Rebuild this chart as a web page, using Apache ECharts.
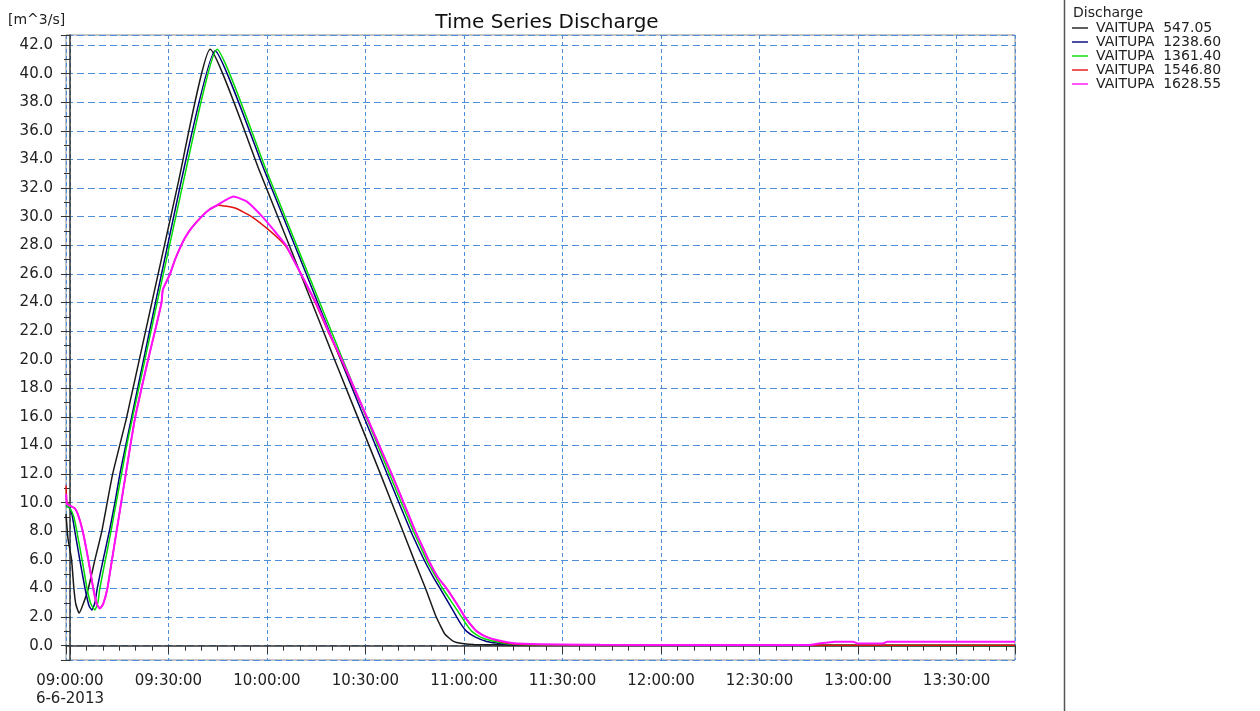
<!DOCTYPE html>
<html>
<head>
<meta charset="utf-8">
<title>Time Series Discharge</title>
<script src="https://cdn.jsdelivr.net/npm/echarts@6/dist/echarts.min.js"></script>
<style>
  html, body { margin: 0; padding: 0; background: #fff; }
  #chart { width: 1260px; height: 711px; }
</style>
</head>
<body>
<div id="chart"></div>
<script>
// x = minutes after 09:00 (6-6-2013), y = discharge [m^3/s]
const seriesNames = ['VAITUPA  547.05', 'VAITUPA  1238.60', 'VAITUPA  1361.40', 'VAITUPA  1546.80', 'VAITUPA  1628.55'];
const seriesColors = ['#1a1a1a', '#00007a', '#00dc00', '#e41010', '#ff10ff'];

const q547 = [
  [-1.2, 9.2], [-0.6, 7.5], [0.5, 6.0], [1.2, 4.0], [1.8, 2.9], [2.8, 2.28], [4.0, 2.9], [5.6, 4.0],
  [7.6, 6.0], [9.7, 8.0], [13.0, 12.0], [17.3, 16.0], [33.0, 32.4], [42.7, 41.7], [57.9, 33.1],
  [69.2, 26.6], [80.6, 20.0], [94.4, 12.1], [101.4, 8.0], [104.8, 6.0], [108.3, 4.0], [111.2, 2.2],
  [112.6, 1.5], [114.2, 0.8], [116.8, 0.3], [119.5, 0.15], [123, 0.08], [149, 0.03], [287.8, 0.02]
];
const q1238 = [
  [-1.2, 9.8], [0, 9.6], [0.6, 9.2], [1.5, 8.0], [3.0, 6.0], [4.6, 4.0], [5.8, 2.8], [6.7, 2.5],
  [7.6, 3.0], [8.3, 4.0], [10.1, 6.0], [12.0, 8.0], [13.7, 10.0], [15.2, 12.0], [17.0, 14.0],
  [18.8, 16.0], [34.0, 32.6], [44.2, 41.6], [59.1, 33.3], [70.2, 27.0], [81.9, 20.3], [96.6, 12.0],
  [103.8, 8.0], [106.2, 6.8], [108.3, 5.8], [110.4, 4.9], [112.7, 4.0], [115.3, 3.0], [117.8, 2.0],
  [119.4, 1.4], [120.8, 1.0], [123.5, 0.6], [126.9, 0.3], [133.0, 0.1], [161.4, 0.04], [287.8, 0.02]
];
const q1361 = [
  [-1.2, 9.8], [0, 9.6], [1.2, 9.0], [2.1, 8.0], [3.7, 6.0], [5.2, 4.0], [6.4, 2.9], [7.6, 2.5],
  [8.5, 3.0], [9.1, 4.0], [10.8, 6.0], [12.5, 8.0], [14.1, 10.0], [15.7, 12.0], [17.3, 14.0],
  [19.1, 16.0], [34.7, 32.6], [44.8, 41.7], [59.7, 33.3], [70.6, 27.1], [82.4, 20.4], [97.3, 12.0],
  [104.6, 8.0], [107.0, 6.8], [109.0, 5.8], [111.2, 4.9], [113.5, 4.0], [116.4, 3.0], [119.3, 2.0],
  [121.0, 1.4], [122.4, 1.0], [125.0, 0.6], [128.4, 0.35], [134.0, 0.12], [149.3, 0.05], [287.8, 0.02]
];
const q1546 = [
  [-1.2, 11.2], [-0.9, 10.0], [0, 9.8], [1.5, 9.6], [2.4, 9.2], [3.9, 8.0], [5.6, 6.0], [7.1, 4.0],
  [8.2, 2.9], [9.1, 2.6], [10.1, 2.9], [11.4, 4.0], [12.8, 6.0], [14.2, 8.0], [15.6, 10.0], [17.0, 12.0],
  [18.4, 14.0], [19.9, 16.0], [21.8, 18.0], [23.8, 20.0], [25.9, 22.0], [27.9, 24.0], [28.3, 24.9],
  [30.5, 26.0], [32.0, 27.0], [33.5, 27.8], [35.0, 28.5], [37.0, 29.2], [40.1, 30.0], [42.5, 30.5],
  [45.2, 30.8], [50.3, 30.6], [55.3, 30.0], [60.9, 29.0], [65.5, 28.0], [67.6, 27.2], [75.1, 23.8],
  [78.7, 21.9], [82.8, 19.9], [98.0, 12.0], [105.2, 8.0], [107.6, 6.8], [109.6, 5.8], [112.0, 4.8],
  [114.7, 4.0], [117.6, 3.0], [120.3, 2.0], [122.3, 1.4], [123.9, 1.0], [127.0, 0.6], [131.0, 0.3],
  [136.1, 0.1], [161.4, 0.05], [287.8, 0.03]
];
const q1628 = [
  [-1.2, 10.6], [-0.9, 9.9], [0, 9.8], [1.5, 9.6], [2.4, 9.2], [3.9, 8.0], [5.6, 6.0], [7.1, 4.0],
  [8.2, 2.9], [9.1, 2.6], [10.1, 2.9], [11.4, 4.0], [12.8, 6.0], [14.2, 8.0], [15.6, 10.0], [17.0, 12.0],
  [18.4, 14.0], [19.9, 16.0], [21.8, 18.0], [23.8, 20.0], [25.9, 22.0], [27.9, 24.0], [28.3, 24.9],
  [30.5, 26.0], [32.0, 27.0], [33.5, 27.8], [35.0, 28.5], [37.0, 29.2], [40.1, 30.0], [42.5, 30.5],
  [45.2, 30.85], [47.8, 31.2], [49.8, 31.4], [53.9, 31.05], [59.0, 29.9], [63.0, 28.8], [65.8, 28.0],
  [67.6, 27.2], [75.1, 23.9], [78.7, 22.0], [82.8, 20.0], [98.0, 12.0], [105.2, 8.0], [107.6, 6.8],
  [109.6, 5.8], [112.0, 4.8], [114.7, 4.0], [117.6, 3.0], [120.3, 2.0], [122.3, 1.4], [123.9, 1.0],
  [127.0, 0.6], [131.0, 0.35], [136.1, 0.15], [161.4, 0.06], [225.1, 0.05], [228.0, 0.15],
  [233.0, 0.28], [238.5, 0.28], [240.0, 0.15], [247.6, 0.15], [248.9, 0.28], [287.8, 0.28]
];
const allSeries = [q547, q1238, q1361, q1546, q1628];

const xMin = -1.2, xMax = 287.8;
const yMin = -1, yMax = 42.7;
const dateLabel = '6-6-2013';

const pad = n => String(n).padStart(2, '0');
function clock(m) {
  const total = Math.round((9 * 60 + m) * 60);
  const h = Math.floor(total / 3600);
  const mm = Math.floor((total % 3600) / 60);
  const ss = total % 60;
  return pad(h) + ':' + pad(mm) + ':' + pad(ss);
}

const font = 'DejaVu Sans';
const chart = echarts.init(document.getElementById('chart'));
chart.setOption({
  animation: false,
  backgroundColor: '#fff',
  title: [
    {
      text: 'Time Series Discharge',
      left: 542, top: 8, textAlign: 'center',
      textStyle: { fontFamily: font, fontSize: 20, fontWeight: 'normal', color: '#111' }
    },
    {
      text: '[m^3/s]',
      left: 3, top: 8,
      textStyle: { fontFamily: font, fontSize: 14, fontWeight: 'normal', color: '#222' }
    },
    {
      text: 'Discharge',
      left: 1068, top: 1,
      textStyle: { fontFamily: font, fontSize: 14, fontWeight: 'normal', color: '#222' }
    }
  ],
  legend: {
    orient: 'vertical',
    left: 1072, top: 21, padding: 0,
    icon: 'rect',
    itemWidth: 16, itemHeight: 1.4, itemGap: 0,
    data: seriesNames,
    textStyle: { fontFamily: font, fontSize: 14, lineHeight: 14, color: '#222', padding: [0, 0, 0, 3] }
  },
  graphic: [{
    type: 'line',
    shape: { x1: 1064.5, y1: 0, x2: 1064.5, y2: 711 },
    style: { stroke: '#555', lineWidth: 1.5 }
  }],
  grid: {
    left: 66, right: 245, top: 35, bottom: 51,
    show: true, borderColor: '#8a8a8a', borderWidth: 1
  },
  xAxis: {
    type: 'value',
    min: xMin, max: xMax,
    splitNumber: 10,
    axisLine: { lineStyle: { color: '#333', width: 1.5 } },
    axisTick: { length: 8, lineStyle: { color: '#333' } },
    minorTick: { show: true, splitNumber: 6, length: 5, lineStyle: { color: '#333' } },
    axisLabel: {
      showMinLabel: false, showMaxLabel: false,
      margin: 12,
      fontFamily: font, fontSize: 15, color: '#222', lineHeight: 18,
      formatter: v => (v === 0 ? clock(v) + '\n' + dateLabel : clock(v))
    },
    splitLine: { show: true, lineStyle: { color: '#4d8fd8', type: [4, 3], width: 1 } }
  },
  yAxis: {
    type: 'value',
    min: yMin, max: yMax,
    splitNumber: 22,
    axisLine: { show: true, lineStyle: { color: '#333', width: 1.5 } },
    axisTick: { show: true, length: 9, lineStyle: { color: '#333' } },
    minorTick: { show: true, splitNumber: 2, length: 6, lineStyle: { color: '#333' } },
    axisLabel: {
      showMinLabel: false, showMaxLabel: false,
      margin: 13,
      fontFamily: font, fontSize: 15, color: '#222',
      formatter: v => v.toFixed(1)
    },
    splitLine: { show: true, lineStyle: { color: '#4d8fd8', type: [7, 4], width: 1 } }
  },
  series: allSeries.map((d, i) => ({
    name: seriesNames[i],
    type: 'line',
    data: d,
    showSymbol: false,
    symbol: 'none',
    smooth: 0.15,
    color: seriesColors[i],
    lineStyle: { color: seriesColors[i], width: i === 4 ? 2 : 1.5 }
  }))
});
</script>
</body>
</html>
